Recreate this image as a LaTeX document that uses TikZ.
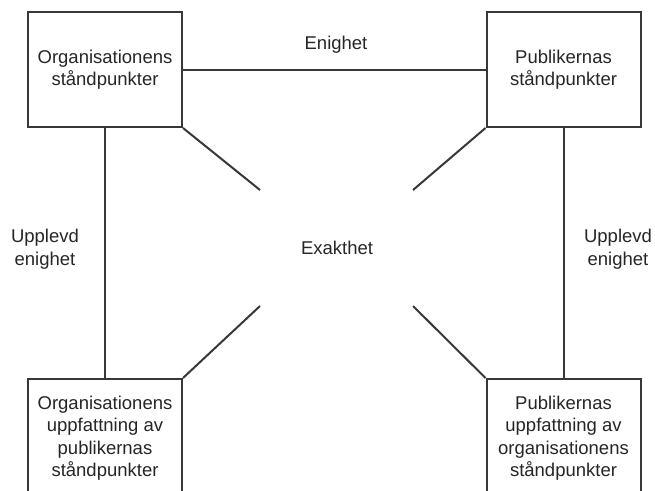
\documentclass[tikz,border=0pt]{standalone}
\usepackage{fontspec}
\setmainfont{Liberation Sans}
\begin{document}
\begin{tikzpicture}[x=1pt,y=-1pt,
  box/.style={draw=black!78, line width=2pt, minimum width=154pt, minimum height=115pt, inner sep=0pt, align=center, text=black!85, font=\fontsize{18.5}{22.5}\selectfont},
  lbl/.style={align=center, inner sep=0pt, text=black!85, font=\fontsize{18.5}{22.5}\selectfont},
  conn/.style={draw=black!78, line width=2pt}]
\clip (0,0) rectangle (655,490);
\fill[white] (0,0) rectangle (655,490);
\node[box] (tl) at (105,69.5) {Organisationens\\ståndpunkter};
\node[box] (tr) at (563.5,69.5) {Publikernas\\ståndpunkter};
\node[box, minimum height=118pt] (bl) at (105,438) {Organisationens\\uppfattning av\\publikernas\\ståndpunkter};
\node[box, minimum height=118pt] (br) at (563.5,438) {Publikernas\\uppfattning av\\organisationens\\ståndpunkter};
\node[lbl] (en) at (336,45) {Enighet};
\node[lbl] (ex) at (337,248) {Exakthet};
\node[lbl] (ul) at (45,249) {Upplevd\\enighet};
\node[lbl] (ur) at (618,249) {Upplevd\\enighet};
\coordinate (dtl) at (260,190);
\coordinate (dtr) at (413,190);
\coordinate (dbl) at (260,306);
\coordinate (dbr) at (413,306);
\draw[conn] (tl.east) -- (tr.west);
\draw[conn] (tl.south) -- (bl.north);
\draw[conn] (tr.south) -- (br.north);
\draw[conn] (tl.south east) -- (dtl);
\draw[conn] (tr.south west) -- (dtr);
\draw[conn] (bl.north east) -- (dbl);
\draw[conn] (br.north west) -- (dbr);
\end{tikzpicture}
\end{document}
